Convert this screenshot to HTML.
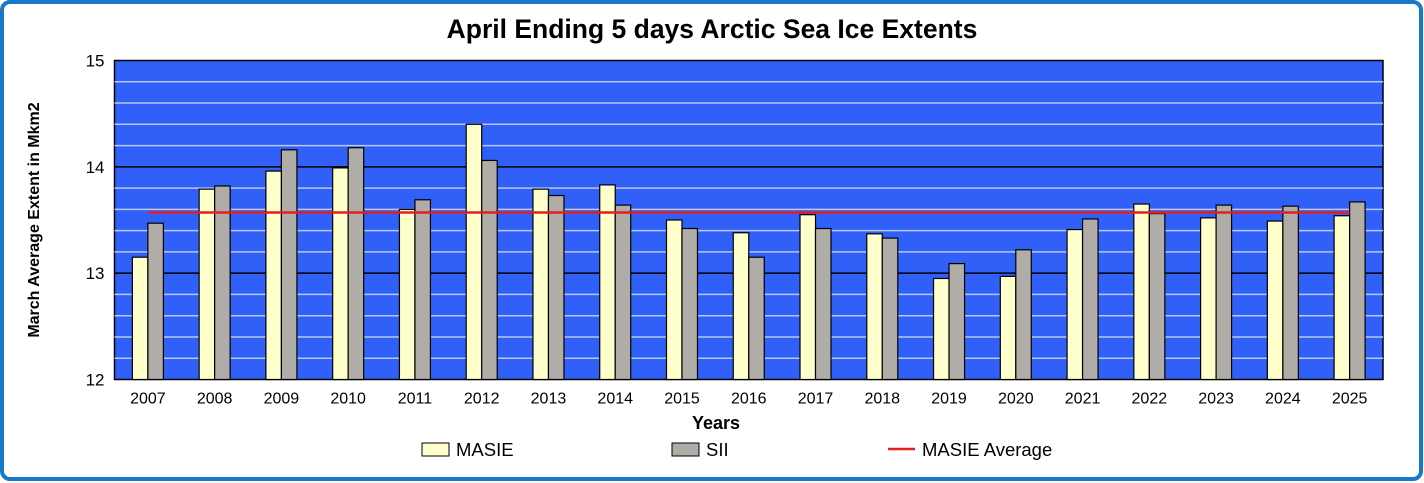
<!DOCTYPE html>
<html><head><meta charset="utf-8"><style>
body{margin:0;background:#fff;}
svg{display:block;font-family:"Liberation Sans",Arial,sans-serif;}
</style></head><body>
<svg id="chart" width="1424" height="483" viewBox="0 0 1424 483">
<rect x="2" y="2" width="1419" height="477" rx="8" fill="#fff" stroke="#1a78c8" stroke-width="4"/>
<text x="712" y="38" text-anchor="middle" font-size="26.5" font-weight="bold">April Ending 5 days Arctic Sea Ice Extents</text>
<g id="plot"></g>
<text x="39" y="220" transform="rotate(-90 39 220)" text-anchor="middle" font-size="16" font-weight="bold">March Average Extent in Mkm2</text>
<text x="716" y="429" text-anchor="middle" font-size="18" font-weight="bold">Years</text>
<g>
<rect x="422" y="443" width="27" height="13" fill="#ffffcc" stroke="#000"/>
<text x="456" y="456" font-size="18.5">MASIE</text>
<rect x="672" y="443" width="27" height="13" fill="#b0aca8" stroke="#000"/>
<text x="706" y="456" font-size="18.5">SII</text>
<line x1="888" y1="449" x2="915" y2="449" stroke="#e02020" stroke-width="2.5"/>
<text x="922" y="456" font-size="18.5">MASIE Average</text>
</g>
</svg>
<script>
const years=["2007","2008","2009","2010","2011","2012","2013","2014","2015","2016","2017","2018","2019","2020","2021","2022","2023","2024","2025"];
const masie=[13.15,13.79,13.96,13.99,13.60,14.40,13.79,13.83,13.50,13.38,13.55,13.37,12.95,12.97,13.41,13.65,13.52,13.49,13.54];
const sii=[13.47,13.82,14.16,14.18,13.69,14.06,13.73,13.64,13.42,13.15,13.42,13.33,13.09,13.22,13.51,13.56,13.64,13.63,13.67];
const masieAvg=13.57;
const yTicks=[12,13,14,15];
const NS="http://www.w3.org/2000/svg";
const L=114.5,R=1383,T=60.5,B=379.5,ymin=12,ymax=15;
const y=v=>B-(v-ymin)/(ymax-ymin)*(B-T);
const cw=(R-L)/years.length;
const xc=i=>L+cw*(i+0.5);
const g=document.getElementById('plot');
function mk(t,a){const e=document.createElementNS(NS,t);for(const k in a)e.setAttribute(k,a[k]);g.appendChild(e);return e;}
let e=mk('rect',{x:L,y:T,width:R-L,height:B-T,fill:'#3060f8',stroke:'#000','stroke-width':1.5});


for(let v=ymin;v<=ymax+1e-9;v+=0.2){
  const major=Math.abs(v-Math.round(v))<1e-6;
  if(Math.abs(v-ymin)<1e-6||Math.abs(v-ymax)<1e-6)continue;
  e=mk('line',{x1:L,x2:R,y1:y(v),y2:y(v),stroke:major?'#000':'#b8c8f0','stroke-width':1.5});
  
  
}
yTicks.forEach(t=>{
  e=mk('text',{x:L-10,y:y(t)+6,'text-anchor':'end','font-size':17});
  e.textContent=t;
  
  
});
const bw=15.5;
years.forEach((yr,i)=>{
  const c=xc(i);
  e=mk('rect',{x:c-bw,y:y(masie[i]),width:bw,height:B-y(masie[i]),fill:'#ffffcc',stroke:'#000','stroke-width':1.2});
  
  
  e=mk('rect',{x:c,y:y(sii[i]),width:bw,height:B-y(sii[i]),fill:'#b0aca8',stroke:'#000','stroke-width':1.2});
  
  
  e=mk('text',{x:c,y:B+24,'text-anchor':'middle','font-size':16});
  e.textContent=yr;
  
  
});
e=mk('line',{x1:xc(0),x2:xc(years.length-1),y1:y(masieAvg),y2:y(masieAvg),stroke:'#e02020','stroke-width':2.5});


</script>
</body></html>
